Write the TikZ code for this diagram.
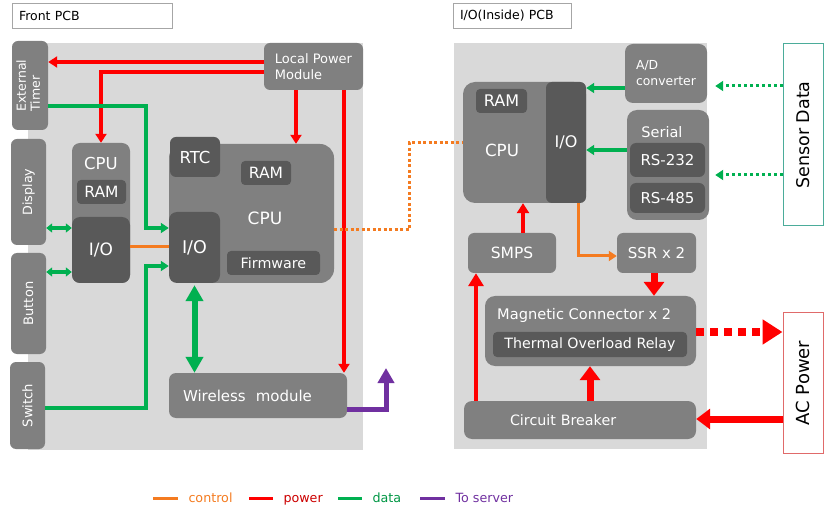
\documentclass[tikz,border=0pt]{standalone}
\usepackage{fontspec}
\setmainfont{DejaVu Sans}
\usetikzlibrary{arrows.meta,positioning}

\definecolor{panelgray}{HTML}{D9D9D9}
\definecolor{blockgray}{HTML}{808080}
\definecolor{innergray}{HTML}{595959}
\definecolor{ctlorange}{HTML}{F47B20}
\definecolor{pwrred}{HTML}{FF0000}
\definecolor{datgreen}{HTML}{00B050}
\definecolor{srvpurple}{HTML}{7030A0}
\definecolor{sensteal}{HTML}{4BAC9A}
\definecolor{acred}{HTML}{E06A6A}

\begin{document}
\begin{tikzpicture}[x=1pt, y=-1pt,
	sz/.style 2 args={minimum width=#1, minimum height=#2},
	blk/.style={fill=blockgray, rounded corners=6pt, text=white, inner sep=0pt},
	inblk/.style={fill=innergray, rounded corners=4pt, text=white, inner sep=0pt},
	txt/.style={text=white, inner sep=0pt},
	title/.style={draw=gray!70, fill=white, align=left, inner sep=3pt, font=\fontsize{12.5}{15}\selectfont},
	outbox/.style={fill=white, line width=1pt, inner sep=0pt},
	pwr/.style={draw=pwrred, line width=3.3pt, -{Triangle[width=11pt,length=9pt]}},
	pwrbig/.style={draw=pwrred, line width=7pt, -{Triangle[width=20pt,length=14pt]}},
	pwrdot/.style={draw=pwrred, line width=8pt, dash pattern=on 8pt off 6pt, -{Triangle[width=24pt,length=20pt]}},
	dat/.style={draw=datgreen, line width=3.1pt, -{Triangle[width=10pt,length=8pt]}},
	datboth/.style={draw=datgreen, line width=3.1pt, {Triangle[width=9pt,length=6pt]}-{Triangle[width=9pt,length=6pt]}},
	datbig/.style={draw=datgreen, line width=6pt, {Triangle[width=17pt,length=16pt]}-{Triangle[width=17pt,length=16pt]}},
	datdot/.style={draw=datgreen, line width=3pt, dash pattern=on 3pt off 3pt, -{Triangle[width=10pt,length=8pt]}},
	ctl/.style={draw=ctlorange, line width=3pt},
	ctldot/.style={draw=ctlorange, line width=3pt, dash pattern=on 3pt off 2.5pt},
	srvline/.style={draw=srvpurple, line width=5pt, -{Triangle[width=16pt,length=15pt]}},
	lgtext/.style={anchor=mid west, inner sep=0pt, xshift=9pt, yshift=-2pt, font=\fontsize{12.7}{15}\selectfont}]
	\useasboundingbox (0,0) rectangle (824,510);

	% board titles
	\node[title, sz={160pt}{25pt}, text width=146pt] (frontlbl) at (92,15.5) {Front PCB};
	\node[title, sz={118pt}{25pt}, text width=104pt] (iolbl) at (512,15.5) {I/O(Inside) PCB};

	% board backgrounds
	\fill[panelgray] (28,43) rectangle (363,450);
	\fill[panelgray] (454,43) rectangle (707,449);

	%% front board
	\node[blk, sz={99pt}{47pt}, align=left, font=\fontsize{13}{16}\selectfont] (lpm) at (313.5,66.5) {Local Power\\Module};
	\node[blk, sz={36pt}{89pt}, font=\fontsize{12.5}{14}\selectfont] (timer) at (30,85.5)
		{\rotatebox{90}{\begin{tabular}{@{}l@{}}External\\Timer\end{tabular}}};
	\node[blk, sz={35pt}{106pt}, font=\fontsize{12.7}{15}\selectfont] (display) at (28.5,192) {\rotatebox{90}{Display}};
	\node[blk, sz={35pt}{101pt}, font=\fontsize{13}{15}\selectfont] (button) at (28.5,303.5) {\rotatebox{90}{Button}};
	\node[blk, sz={35pt}{87pt}, font=\fontsize{13.2}{15}\selectfont] (switch) at (27.5,405.5) {\rotatebox{90}{Switch}};

	% panel cpu
	\node[blk, sz={58pt}{140pt}, rounded corners=8pt] (cpu1) at (101,213) {};
	\node[txt, font=\fontsize{16.5}{18}\selectfont] (cpu1txt) at (101,163) {CPU};
	\node[inblk, sz={49pt}{24pt}, font=\fontsize{15.5}{18}\selectfont] (ram1) at (101.5,192) {RAM};
	\node[inblk, sz={58pt}{66pt}, rounded corners=8pt, font=\fontsize{17}{19}\selectfont] (io1) at (101,250) {I/O};

	% main cpu
	\node[blk, sz={165pt}{139pt}, rounded corners=14pt] (cpu2) at (251.5,213.5) {};
	\node[inblk, sz={50pt}{40pt}, rounded corners=6pt, font=\fontsize{16.5}{18}\selectfont] (rtc) at (195,157) {RTC};
	\node[inblk, sz={50pt}{24pt}, font=\fontsize{15.5}{18}\selectfont] (ram2) at (266,173) {RAM};
	\node[txt, font=\fontsize{17}{19}\selectfont] (cpu2txt) at (265,218) {CPU};
	\node[inblk, sz={51pt}{71pt}, rounded corners=8pt, font=\fontsize{17.5}{19}\selectfont] (io2) at (194.5,247.5) {I/O};
	\node[inblk, sz={93pt}{24pt}, font=\fontsize{14.3}{17}\selectfont] (fw) at (273.5,263) {Firmware};
	\node[blk, sz={178pt}{45pt}, rounded corners=7pt, text width=150pt, align=left, font=\fontsize{15}{18}\selectfont] (wireless) at (258,395.5) {Wireless~ module};

	%% inside board
	\node[blk, sz={82pt}{59pt}, rounded corners=8pt, align=left, font=\fontsize{12.4}{16}\selectfont] (adc) at (666,73.5) {A/D\\converter};
	\node[blk, sz={123pt}{121pt}, rounded corners=12pt] (cpu3) at (524.5,142.5) {};
	\node[inblk, sz={51pt}{24pt}, font=\fontsize{16}{18}\selectfont] (ram3) at (501.5,101) {RAM};
	\node[txt, font=\fontsize{16.7}{19}\selectfont] (cpu3txt) at (502,150) {CPU};
	\node[inblk, sz={40pt}{121pt}, rounded corners=6pt, font=\fontsize{16}{18}\selectfont] (io3) at (566,142.5) {I/O};
	\node[blk, sz={82pt}{110pt}, rounded corners=10pt] (serial) at (668,165) {};
	\node[txt, font=\fontsize{14.5}{17}\selectfont] (serialtxt) at (662,132) {Serial};
	\node[inblk, sz={75pt}{34pt}, rounded corners=6pt, font=\fontsize{15}{17}\selectfont] (rs232) at (667.5,160) {RS-232};
	\node[inblk, sz={75pt}{30pt}, rounded corners=6pt, font=\fontsize{15}{17}\selectfont] (rs485) at (667.5,198) {RS-485};
	\node[blk, sz={88pt}{40pt}, font=\fontsize{15.5}{18}\selectfont] (smps) at (512,253) {SMPS};
	\node[blk, sz={79pt}{40pt}, font=\fontsize{15}{18}\selectfont] (ssr) at (656.5,253) {SSR x 2};
	\node[blk, sz={211pt}{70pt}, rounded corners=10pt] (mag) at (590.5,331) {};
	\node[txt, anchor=west, font=\fontsize{14.6}{17}\selectfont] (magtxt) at (497,315) {Magnetic Connector x 2};
	\node[inblk, sz={194pt}{25pt}, font=\fontsize{14.2}{17}\selectfont] (tor) at (590,344.5) {Thermal Overload Relay};
	\node[blk, sz={232pt}{38pt}, rounded corners=8pt, text width=140pt, align=left, font=\fontsize{14.3}{17}\selectfont] (cb) at (580,420) {Circuit Breaker};

	% outside sources
	\node[outbox, draw=sensteal, sz={40pt}{182pt}, font=\fontsize{17.5}{20}\selectfont] (sensor) at (803,135) {\rotatebox{90}{Sensor Data}};
	\node[outbox, draw=acred, sz={40pt}{140pt}, font=\fontsize{18}{20}\selectfont] (acpwr) at (803,383) {\rotatebox{90}{AC Power}};

	%% connections, front board
	\coordinate (dbus) at (146,0);
	\coordinate (link) at (409,0);
	\coordinate (srv) at (386,368);
	\draw[pwr] (lpm.west |- 0,62) -- (timer.east |- 0,62);
	\draw[pwr] (lpm.west |- 0,72) -| (cpu1.north);
	\draw[pwr] (lpm.south -| 296,0) -- (cpu2.north -| 296,0);
	\draw[pwr] (lpm.south -| 344,0) -- (wireless.north -| 344,0);
	\draw[dat] (timer.east |- 0,106) -| (dbus |- 0,228) -- (io2.west |- 0,228);
	\draw[dat] (switch.east |- 0,408) -| (dbus |- 0,266) -- (io2.west |- 0,266);
	\draw[datboth] (display.east |- 0,228) -- (io1.west |- 0,228);
	\draw[datboth] (button.east |- 0,272) -- (io1.west |- 0,272);
	\draw[datbig, shorten <=2pt] (io2.south) -- (wireless.north -| io2.south);
	\draw[ctl] (io1.east |- 0,247) -- (io2.west |- 0,247);
	\draw[srvline] (wireless.east |- 0,409) -| (srv);
	\draw[ctldot] (cpu2.east |- 0,230) -| (link |- 0,143) -- (cpu3.west |- 0,143);

	%% connections, inside board
	\draw[dat] (adc.west |- 0,88) -- (io3.east |- 0,88);
	\draw[dat] (serial.west |- 0,150) -- (io3.east |- 0,150);
	\draw[datdot, shorten >=8pt] (sensor.west |- 0,86) -- (adc.east |- 0,86);
	\draw[datdot, shorten >=6pt] (sensor.west |- 0,175) -- (serial.east |- 0,175);
	\draw[pwr, line width=4pt, -{Triangle[width=12pt,length=10pt]}] (smps.north -| 523,0) -- (cpu3.south -| 523,0);
	\draw[ctl, -{Triangle[width=10pt,length=8pt]}] (io3.south -| 578,0) |- (ssr.west |- 0,256);
	\draw[pwrbig] (ssr.south -| 654,0) -- (mag.north -| 654,0);
	\draw[pwrbig] (cb.north -| 590,0) -- (mag.south -| 590,0);
	\draw[pwr, line width=4pt, -{Triangle[width=15pt,length=13pt]}] (cb.north -| 476,0) -- (smps.south -| 476,0);
	\draw[pwrbig] (acpwr.west |- 0,419) -- (cb.east |- 0,419);
	\draw[pwrdot] (mag.east |- 0,332) -- (acpwr.west |- 0,332);

	% legend
	\draw[ctl] (153,498) -- (178,498) node[lgtext, text=ctlorange] (lgctl) {control};
	\draw[ctl, draw=pwrred] (249,498) -- (273,498) node[lgtext, text=red!80!black] (lgpwr) {power};
	\draw[ctl, draw=datgreen] (338,498) -- (362,498) node[lgtext, text=datgreen!85!black] (lgdat) {data};
	\draw[ctl, draw=srvpurple] (420,498) -- (445,498) node[lgtext, text=srvpurple] (lgsrv) {To server};
\end{tikzpicture}
\end{document}
